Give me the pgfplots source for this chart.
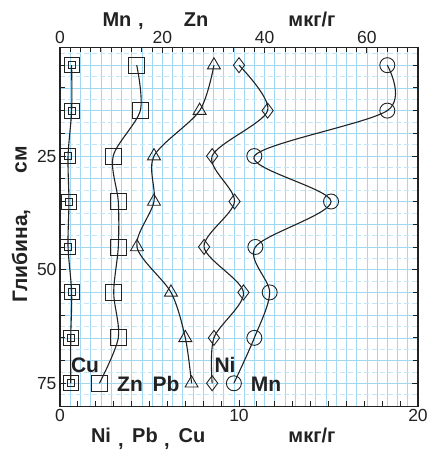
\documentclass[border=0pt]{standalone}
\usepackage{fontspec}
\setmainfont{Liberation Sans}
\usepackage{pgfplots}
\pgfplotsset{compat=1.18}
\definecolor{gridc}{HTML}{A2D7F2}
\definecolor{gridd}{HTML}{C2E6F8}
\definecolor{ln}{HTML}{222222}
\begin{document}
\begin{tikzpicture}
\useasboundingbox (-60pt,-44pt) rectangle (367pt,406pt);
% ---------- top axis: Mn, Zn ----------
\begin{axis}[
  at={(0pt,0pt)}, anchor=south west, scale only axis,
  width=358pt, height=359pt,
  xmin=0, xmax=70, ymin=1, ymax=80, y dir=reverse,
  xtick={0,20,40,60}, minor xtick={2,4,...,68},
  xtick pos=right, xticklabel pos=right,
  ytick={25,50,75}, minor ytick={5,10,...,75},
  tick align=inside,
  major tick length=6pt, minor tick length=5pt,
  xmajorgrids, xminorgrids, ymajorgrids, yminorgrids,
  major grid style={draw=gridc, line width=0.65pt},
  minor grid style={draw=gridc, line width=0.65pt},
  extra y ticks={2.5,7.5,...,77.5}, extra y tick labels={},
  extra y tick style={major tick length=0pt, ymajorgrids,
     major grid style={draw=gridd, dash pattern=on 5pt off 3pt, line width=0.7pt}},
  ticklabel style={font=\fontsize{17.5}{20}\selectfont, text=ln},
  /pgf/number format/assume math mode=true,
  axis line style={draw=ln, line width=1pt},
  tick style={draw=ln, line width=0.85pt},
  every axis plot/.append style={draw=ln, line width=1.1pt, smooth},
  clip=false,
]
% Zn (big squares)
\addplot[mark=square, mark size=8pt, mark options={solid, draw=ln, fill=none, line width=0.9pt}]
  coordinates {(15,5) (15.7,15) (10.4,25) (11.4,35) (11.4,45) (10.5,55) (11.4,65) (7.7,75)};
% Mn (circles)
\addplot[mark=o, mark size=7.5pt, mark options={solid, draw=ln, fill=none, line width=0.9pt}]
  coordinates {(64,5) (64,15) (38,25) (53,35) (38.2,45) (41,55) (38,65) (34,75)};
\end{axis}
% ---------- bottom axis: Ni, Pb, Cu ----------
\begin{axis}[
  at={(0pt,0pt)}, anchor=south west, scale only axis,
  width=358pt, height=359pt,
  xmin=0, xmax=20, ymin=1, ymax=80, y dir=reverse,
  xtick={0,10,20}, minor xtick={1,2,...,19},
  xtick pos=left, ytick=\empty,
  tick align=inside,
  major tick length=6pt, minor tick length=5pt,
  ticklabel style={font=\fontsize{17.5}{20}\selectfont, text=ln},
  /pgf/number format/assume math mode=true,
  axis line style={draw=ln, line width=1pt},
  tick style={draw=ln, line width=0.85pt},
  every axis plot/.append style={draw=ln, line width=1.1pt, smooth},
  clip=false,
]
% Cu outer squares
\addplot[only marks, mark=square, mark size=7.5pt, mark options={solid, draw=ln, fill=none, line width=0.9pt}]
  coordinates {(0.65,5) (0.65,15) (0.45,25) (0.5,35) (0.45,45) (0.65,55) (0.6,65) (0.6,75)};
% Cu inner squares + line
\addplot[mark=square, mark size=3.5pt, mark options={solid, draw=ln, fill=none, line width=0.9pt}]
  coordinates {(0.65,5) (0.65,15) (0.45,25) (0.5,35) (0.45,45) (0.65,55) (0.6,65) (0.6,75)};
% Pb (triangles)
\addplot[mark=triangle, mark size=7.5pt, mark options={solid, draw=ln, fill=none, line width=0.9pt}]
  coordinates {(8.6,5) (7.8,15) (5.25,25) (5.25,35) (4.3,45) (6.2,55) (7.0,65) (7.35,75)};
% Ni (diamonds)
\addplot[mark=diamond, mark size=7.5pt, mark options={solid, draw=ln, fill=none, line width=0.9pt}]
  coordinates {(10.0,5) (11.6,15) (8.5,25) (9.75,35) (8.05,45) (10.25,55) (8.6,65) (8.5,75)};
\end{axis}
% ---------- titles ----------
\begin{scope}[every node/.style={font=\bfseries\fontsize{20}{23}\selectfont, text=ln, anchor=base, inner sep=0pt}]
\node at (57pt,379pt) {Mn};
\node at (81pt,379pt) {,};
\node at (136pt,379pt) {Zn};
\node at (252pt,379pt) {мкг/г};
\node at (41pt,-37pt) {Ni};
\node at (61pt,-41pt) {,};
\node at (85pt,-37pt) {Pb};
\node at (107pt,-41pt) {,};
\node at (132pt,-37pt) {Cu};
\node at (252pt,-37pt) {мкг/г};
\end{scope}
\begin{scope}[every node/.style={font=\bfseries\fontsize{21}{24}\selectfont, text=ln, inner sep=0pt}]
\node[rotate=90] at (-39pt,150pt) {Глибина,};
\node[rotate=90] at (-39pt,246pt) {см};
\node at (25pt,41pt) {Cu};
\node at (70pt,22pt) {Zn};
\node at (106pt,22pt) {Pb};
\node at (165pt,41pt) {Ni};
\node at (206pt,22pt) {Mn};
\end{scope}
\end{tikzpicture}
\end{document}
